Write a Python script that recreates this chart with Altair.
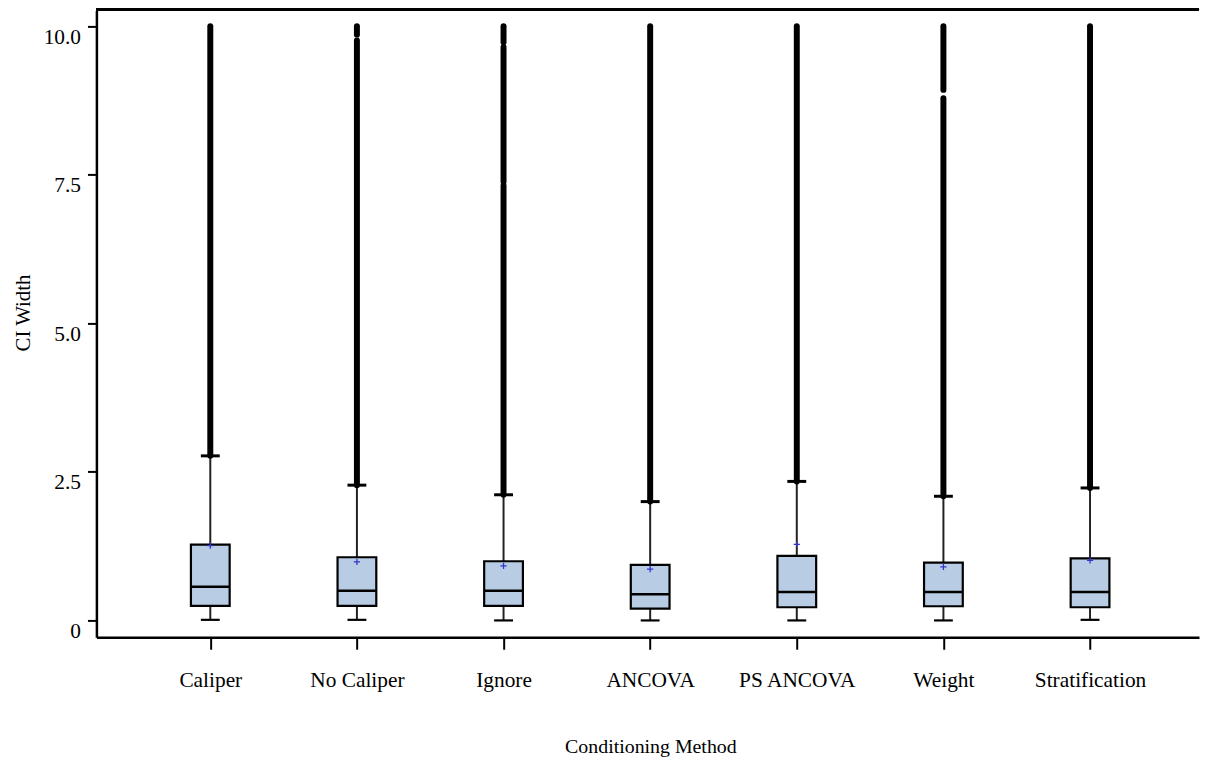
import altair as alt
import pandas as pd

# ---- data ----
methods = ["Caliper", "No Caliper", "Ignore", "ANCOVA", "PS ANCOVA", "Weight", "Stratification"]
q1 = [0.244, 0.244, 0.244, 0.200, 0.222, 0.239, 0.222]
median = [0.568, 0.500, 0.500, 0.440, 0.478, 0.478, 0.478]
q3 = [1.275, 1.063, 0.996, 0.936, 1.086, 0.974, 1.046]
whisker_low = [0.01, 0.01, 0.0, 0.0, 0.0, 0.0, 0.01]
whisker_high = [2.77, 2.277, 2.115, 2.00, 2.34, 2.09, 2.23]
mean = [1.26, 0.985, 0.919, 0.862, 1.28, 0.90, 1.01]

# dense runs of outliers (drawn as solid columns in the reference)
out_method = ["Caliper", "No Caliper", "No Caliper", "Ignore", "Ignore", "Ignore",
              "ANCOVA", "PS ANCOVA", "Weight", "Weight", "Stratification"]
out_low = [2.77, 2.277, 9.86, 2.115, 7.38, 9.73, 2.00, 2.34, 2.09, 8.93, 2.23]
out_high = [10.0, 9.76, 10.0, 7.32, 9.65, 10.0, 10.0, 10.0, 8.79, 10.0, 10.0]

df = pd.DataFrame({"method": methods, "q1": q1, "median": median, "q3": q3,
                   "wlo": whisker_low, "whi": whisker_high, "mean": mean})
df_out = pd.DataFrame({"method": out_method, "lo": out_low, "hi": out_high})

FONT = "Liberation Serif"
W, H = 1110, 631

xscale = alt.Scale(type="point", padding=0.76, align=0.511)
x_enc = alt.X("method:N", sort=methods, scale=xscale,
              axis=alt.Axis(title="Conditioning Method", labelAngle=0,
                            domain=True, domainColor="black", domainWidth=2.5,
                            ticks=True, tickSize=12, tickWidth=2, tickColor="black",
                            labelFont=FONT, labelFontSize=21.5, labelColor="black",
                            labelBaseline="alphabetic", labelPadding=38,
                            titleFont=FONT, titleFontSize=20, titleFontWeight="normal",
                            titleColor="black", titleBaseline="alphabetic",
                            titleX=557.7, titleY=116, grid=False))
yscale = alt.Scale(domain=[-0.284, 10.266], nice=False, zero=False)
y_axis = alt.Axis(title="CI Width", values=[0, 2.5, 5, 7.5, 10],
                  labelExpr="datum.value == 0 ? '0' : format(datum.value, '.1f')",
                  domain=True, domainColor="black", domainWidth=2.5,
                  ticks=True, tickSize=9, tickWidth=2, tickColor="black",
                  labelFont=FONT, labelFontSize=21.5, labelColor="black",
                  labelBaseline="alphabetic", labelOffset=17, labelPadding=7,
                  titleFont=FONT, titleFontSize=21, titleFontWeight="normal",
                  titleColor="black", titleAngle=270, titleAlign="center",
                  titleBaseline="alphabetic", titleX=-67, titleY=304, grid=False)

base = alt.Chart(df)

whisker = base.mark_rule(color="#222222", strokeWidth=2).encode(
    x=x_enc, y=alt.Y("wlo:Q", scale=yscale, axis=y_axis), y2="whi:Q")

outliers = alt.Chart(df_out).mark_rule(color="black", strokeWidth=6, strokeCap="round").encode(
    x=alt.X("method:N", sort=methods, scale=xscale),
    y=alt.Y("lo:Q", scale=yscale), y2="hi:Q")

box = base.mark_bar(size=39, fill="#b8cce4", stroke="black", strokeWidth=2.2).encode(
    x=alt.X("method:N", sort=methods, scale=xscale),
    y=alt.Y("q1:Q", scale=yscale), y2="q3:Q")

med = base.mark_tick(size=39, thickness=2.4, color="black", opacity=1).encode(
    x=alt.X("method:N", sort=methods, scale=xscale),
    y=alt.Y("median:Q", scale=yscale))

cap_lo = base.mark_tick(size=19, thickness=2.2, color="black", opacity=1).encode(
    x=alt.X("method:N", sort=methods, scale=xscale),
    y=alt.Y("wlo:Q", scale=yscale))

cap_hi = base.mark_tick(size=19, thickness=3, color="black", opacity=1).encode(
    x=alt.X("method:N", sort=methods, scale=xscale),
    y=alt.Y("whi:Q", scale=yscale))

mean_pt = base.mark_point(shape="M-1,0L1,0M0,-1L0,1", size=40, stroke="#3535d0",
                          strokeWidth=1.3, filled=False, opacity=1).encode(
    x=alt.X("method:N", sort=methods, scale=xscale),
    y=alt.Y("mean:Q", scale=yscale))

top_line = base.mark_rule(color="black", strokeWidth=2.5).encode(
    x=alt.value(0), x2=alt.value(W), y=alt.value(-1))

chart = alt.layer(whisker, box, med, cap_lo, outliers, cap_hi, mean_pt, top_line).properties(
    width=W, height=H,
    autosize=alt.AutoSizeParams(type="none"),
    padding={"left": 89, "top": 0, "right": 3, "bottom": 122},
    background="white",
).configure_view(stroke="transparent")

chart.save("out.html", embed_options={"renderer": "svg", "actions": False})
